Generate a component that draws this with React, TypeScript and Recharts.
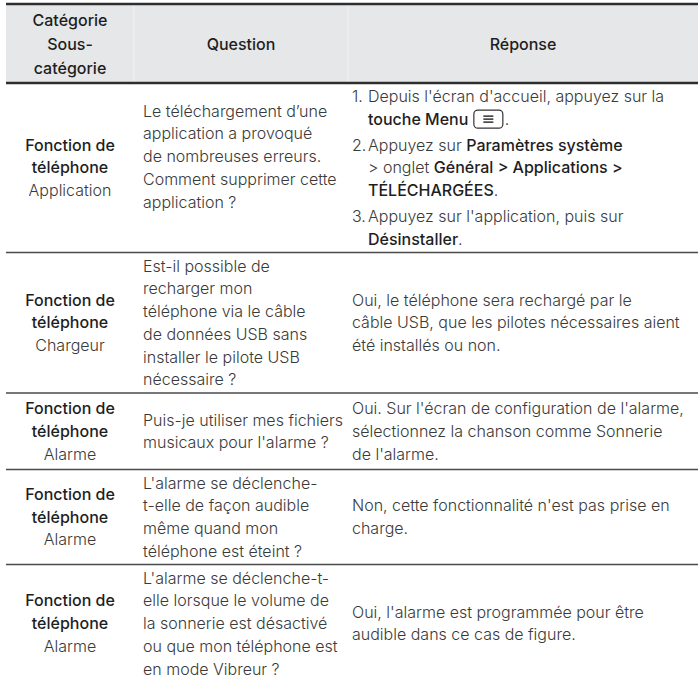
import React from 'react';
import { ComposedChart, Customized } from 'recharts';

// header labels
const headerCategory = ['Catégorie', 'Sous-', 'catégorie'];
const headerQuestion = 'Question';
const headerAnswer = 'Réponse';

// one entry per table row
const categories = [
  ['Fonction de', 'téléphone'],
  ['Fonction de', 'téléphone'],
  ['Fonction de', 'téléphone'],
  ['Fonction de', 'téléphone'],
  ['Fonction de', 'téléphone'],
];
const subcategories = ['Application', 'Chargeur', 'Alarme', 'Alarme', 'Alarme'];

// the first question ends with an empty paragraph in the original
const questions = [
  [
    'Le téléchargement d’une',
    'application a provoqué',
    'de nombreuses erreurs.',
    'Comment supprimer cette',
    'application ?',
    '',
  ],
  [
    'Est-il possible de',
    'recharger mon',
    'téléphone via le câble',
    'de données USB sans',
    'installer le pilote USB',
    'nécessaire ?',
  ],
  ['Puis-je utiliser mes fichiers', 'musicaux pour l\'alarme ?'],
  [
    'L\'alarme se déclenche-',
    't-elle de façon audible',
    'même quand mon',
    'téléphone est éteint ?',
  ],
  [
    'L\'alarme se déclenche-t-',
    'elle lorsque le volume de',
    'la sonnerie est désactivé',
    'ou que mon téléphone est',
    'en mode Vibreur ?',
  ],
];

// "n.|" starts a numbered item, "|" continues it, **x** is bold, [menu] is the key icon
const answers = [
  [
    '1.|Depuis l\'écran d\'accueil, appuyez sur la',
    '|**touche Menu** [menu].',
    '2.|Appuyez sur **Paramètres système**',
    '|> onglet **Général > Applications >**',
    '|**TÉLÉCHARGÉES**.',
    '3.|Appuyez sur l\'application, puis sur',
    '|**Désinstaller**.',
  ],
  [
    'Oui, le téléphone sera rechargé par le',
    'câble USB, que les pilotes nécessaires aient',
    'été installés ou non.',
  ],
  [
    'Oui. Sur l\'écran de configuration de l\'alarme,',
    'sélectionnez la chanson comme Sonnerie',
    'de l\'alarme.',
  ],
  ['Non, cette fonctionnalité n\'est pas prise en', 'charge.'],
  ['Oui, l\'alarme est programmée pour être', 'audible dans ce cas de figure.'],
];

const W = 698;
const H = 680;
const COL = [6, 134, 348, 698];
const HEAD_TOP = 4;
const HEAD_BOTTOM = 83;
const HEAD_LINE = 24;
const LINE = 22.75;
const PAD = 2;
const ITEM_GAP = 3.1;
const MIN_ROW = 76.5;
const FS = 16;
const FONT = 'Inter, "Liberation Sans", Arial, sans-serif';
const TEXT_C = '#3a3a3a';
const BOLD_C = '#1e1e1e';
const LIGHT = 300;
const MEDIUM = 500;

let ctx: CanvasRenderingContext2D | null = null;
const measure = (s: string, weight: number) => {
  if (!ctx) ctx = document.createElement('canvas').getContext('2d');
  if (!ctx) return s.length * FS * 0.5;
  ctx.font = `${weight} ${FS}px ${FONT}`;
  return ctx.measureText(s).width;
};

const baseline = (center: number) => center + FS * 0.36;

const spans = (s: string) =>
  s.split('**').map((p, i) => (
    <tspan key={i} fontWeight={i % 2 ? MEDIUM : LIGHT} fill={i % 2 ? BOLD_C : TEXT_C}>
      {p}
    </tspan>
  ));

const RichLine = ({ text, x, cy }: { text: string; x: number; cy: number }) => {
  const [before, after] = text.split('[menu]');
  const y = baseline(cy);
  if (after === undefined) {
    return (
      <text x={x} y={y} style={{ whiteSpace: 'pre' }}>
        {spans(before)}
      </text>
    );
  }
  const w = before
    .split('**')
    .reduce((acc, p, i) => acc + measure(p, i % 2 ? MEDIUM : LIGHT), 0);
  const ix = x + w + 1;
  const iw = 29;
  return (
    <g>
      <text x={x} y={y} style={{ whiteSpace: 'pre' }}>
        {spans(before)}
      </text>
      <rect x={ix} y={cy - 9} width={iw} height={18} rx={4} fill="#fff" stroke="#333" strokeWidth={1.2} />
      {[-3, 0, 3].map((d) => (
        <line key={d} x1={ix + iw / 2 - 5} x2={ix + iw / 2 + 5} y1={cy + d} y2={cy + d} stroke="#222" strokeWidth={1.4} />
      ))}
      <text x={ix + iw + 2} y={y} style={{ whiteSpace: 'pre' }}>
        {spans(after)}
      </text>
    </g>
  );
};

const answerHeight = (lines: string[]) => {
  const items = lines.filter((l) => /^\d+\.\|/.test(l)).length;
  return lines.length * LINE + Math.max(0, items - 1) * ITEM_GAP;
};

const Table = () => {
  const rows: React.ReactNode[] = [];
  let top = HEAD_BOTTOM;
  categories.forEach((cat, r) => {
    const catLines = [...cat, subcategories[r]];
    const h = Math.max(
      Math.max(catLines.length * LINE, questions[r].length * LINE, answerHeight(answers[r])) + PAD * 2,
      MIN_ROW
    );
    const mid = top + h / 2;

    const c1 = catLines.map((t, i) => (
      <text
        key={`c${i}`}
        x={(COL[0] + COL[1]) / 2}
        y={baseline(mid + (i - (catLines.length - 1) / 2) * LINE)}
        textAnchor="middle"
        fontWeight={i < cat.length ? MEDIUM : LIGHT}
        fill={i < cat.length ? BOLD_C : TEXT_C}
      >
        {t}
      </text>
    ));

    const q = questions[r];
    const c2 = q.map((t, i) => (
      <text key={`q${i}`} x={COL[1] + 9} y={baseline(mid + (i - (q.length - 1) / 2) * LINE)} fill={TEXT_C} fontWeight={LIGHT}>
        {t}
      </text>
    ));

    const a = answers[r];
    let ay = mid - answerHeight(a) / 2 + LINE / 2;
    const c3 = a.map((t, i) => {
      const numbered = t.includes('|');
      const [num, body] = numbered ? t.split('|') : ['', t];
      if (num && i > 0) ay += ITEM_GAP;
      const cy = ay;
      ay += LINE;
      return (
        <g key={`a${i}`}>
          {num && (
            <text x={COL[2] + 4} y={baseline(cy)} fill={TEXT_C} fontWeight={LIGHT}>
              {num}
            </text>
          )}
          <RichLine text={body} x={numbered ? COL[2] + 20 : COL[2] + 4} cy={cy} />
        </g>
      );
    });

    rows.push(
      <g key={r}>
        {c1}
        {c2}
        {c3}
        <line x1={COL[0]} x2={COL[3]} y1={top + h} y2={top + h} stroke="#4a4a4a" strokeWidth={1.5} />
      </g>
    );
    top += h;
  });

  const headMid = (HEAD_TOP + HEAD_BOTTOM) / 2 + 1;
  return (
    <g fontFamily={FONT} fontSize={FS}>
      <rect x={COL[0]} y={HEAD_TOP} width={COL[3] - COL[0]} height={HEAD_BOTTOM - HEAD_TOP} fill="#e6e7e8" />
      {[COL[1], COL[2]].map((x) => (
        <line key={x} x1={x} x2={x} y1={HEAD_TOP} y2={HEAD_BOTTOM} stroke="#f2f2f2" strokeWidth={1} />
      ))}
      <line x1={COL[0]} x2={COL[3]} y1={HEAD_TOP} y2={HEAD_TOP} stroke="#2e2e2e" strokeWidth={2.5} />
      <line x1={COL[0]} x2={COL[3]} y1={HEAD_BOTTOM} y2={HEAD_BOTTOM} stroke="#2e2e2e" strokeWidth={2.5} />
      {headerCategory.map((t, i) => (
        <text
          key={t}
          x={(COL[0] + COL[1]) / 2}
          y={baseline(headMid + (i - 1) * HEAD_LINE)}
          textAnchor="middle"
          fontWeight={MEDIUM}
          fill={BOLD_C}
        >
          {t}
        </text>
      ))}
      <text x={(COL[1] + COL[2]) / 2} y={baseline(headMid)} textAnchor="middle" fontWeight={MEDIUM} fill={BOLD_C}>
        {headerQuestion}
      </text>
      <text x={(COL[2] + COL[3]) / 2} y={baseline(headMid)} textAnchor="middle" fontWeight={MEDIUM} fill={BOLD_C}>
        {headerAnswer}
      </text>
      {rows}
    </g>
  );
};

const tableData = subcategories.map((s, i) => ({ row: i, subcategory: s }));

export default function App() {
  return (
    <div style={{ position: 'absolute', left: 0, top: 0, background: '#fff' }}>
      <ComposedChart width={W} height={H} data={tableData} margin={{ top: 0, right: 0, bottom: 0, left: 0 }}>
        <Customized component={Table} />
      </ComposedChart>
    </div>
  );
}
